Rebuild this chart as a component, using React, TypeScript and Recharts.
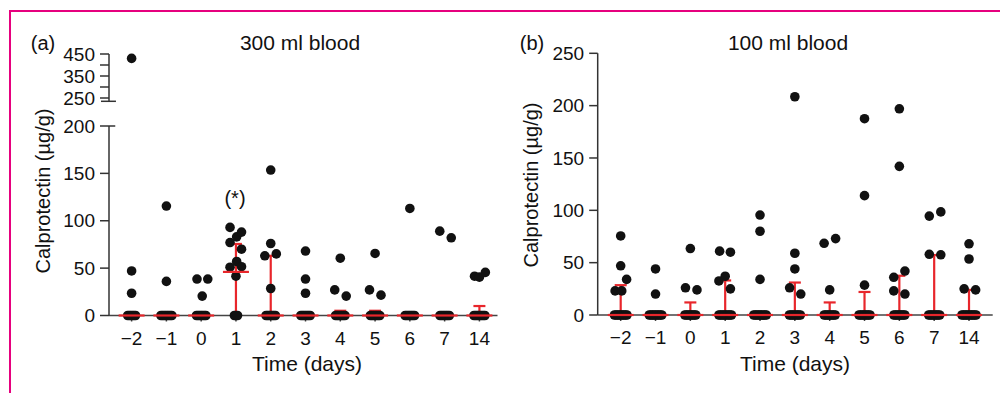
import React from 'react';
import { ComposedChart, Scatter, XAxis, YAxis, ErrorBar, ReferenceLine } from 'recharts';

const FONT = '"Liberation Sans", Arial, Helvetica, sans-serif';
const RED = '#e8262b';
const INK = '#111';
const AXIS = '#333';
const FRAME = '#e6007e';

// x tick labels (time in days), drawn at positions 0..10
const days = ['\u22122', '\u22121', '0', '1', '2', '3', '4', '5', '6', '7', '14'];
const dayIdx = [0, 1, 2, 3, 4, 5, 6, 7, 8, 9, 10];

// (a) 300 ml blood: non-zero samples as [day index, horizontal spread, value]
const pointsA: [number, number, number][] = [
  [0, 0, 430], [0, 0, 47], [0, 0, 23.5],
  [1, 0, 115.5], [1, 0, 36],
  [2, -0.12, 38.5], [2, 0.19, 38.5], [2, 0.03, 20.5],
  [3, -0.17, 93], [3, -0.17, 77], [3, 0.02, 83], [3, 0.16, 88], [3, 0.16, 70],
  [3, -0.17, 51], [3, 0.02, 57], [3, 0.16, 51.5], [3, 0, 41.5],
  [4, 0, 153.5], [4, 0, 76], [4, -0.17, 63], [4, 0.16, 65], [4, 0, 28.5],
  [5, 0, 68], [5, 0, 38.5], [5, 0, 23.5],
  [6, 0, 60.5], [6, -0.16, 27], [6, 0.17, 20.5],
  [7, 0, 65.5], [7, -0.16, 27], [7, 0.17, 21.5],
  [8, 0, 113],
  [9, -0.14, 89], [9, 0.19, 82],
  [10, -0.14, 41.5], [10, 0, 40.5], [10, 0.17, 45.5],
];
// number of samples at 0 per day
const zerosA = [6, 8, 7, 3, 7, 7, 7, 7, 7, 7, 8];
const medianA = [0, 0, 0, 46, 0, 0, 0, 0, 0, 0, 0];
const q1A = [0, 0, 0, 0, 0, 0, 0, 0, 0, 0, 0];
const q3A = [0, 0, 0, 75.5, 63, 0, 5, 5, 0, 0, 10];

// (b) 100 ml blood
const pointsB: [number, number, number][] = [
  [0, 0, 75.5], [0, 0, 47], [0, 0.17, 34], [0, -0.16, 23], [0, 0.03, 23],
  [1, 0, 44], [1, 0, 20],
  [2, 0, 63.5], [2, -0.14, 26], [2, 0.19, 24],
  [3, -0.16, 61], [3, 0.15, 60], [3, 0, 37], [3, -0.18, 32.5], [3, 0.15, 25],
  [4, 0, 95.5], [4, 0, 80], [4, 0, 34],
  [5, 0, 208.5], [5, 0, 59], [5, 0, 44], [5, -0.15, 26], [5, 0.17, 20],
  [6, -0.16, 68.5], [6, 0.17, 73], [6, 0, 24],
  [7, 0, 187.5], [7, 0, 114], [7, 0, 28.5],
  [8, 0, 197], [8, 0, 142], [8, -0.16, 36], [8, 0.16, 42], [8, -0.16, 23], [8, 0.16, 20],
  [9, -0.14, 94.5], [9, 0.19, 98.5], [9, -0.14, 58], [9, 0.19, 57.5],
  [10, 0, 68], [10, 0, 53.5], [10, -0.14, 25], [10, 0.19, 24],
];
const zerosB = [9, 9, 8, 9, 9, 8, 8, 8, 8, 8, 10];
const medianB = [0, 0, 0, 0, 0, 0, 0, 0, 0, 0, 0];
const q1B = [0, 0, 0, 0, 0, 0, 0, 0, 0, 0, 0];
const q3B = [28.5, 0, 12, 33, 0, 31, 12, 22, 37.5, 57.3, 24];

const ticksALow = [0, 50, 100, 150, 200];
const ticksAHigh = [250, 300, 350, 400, 450];
const ticksB = [0, 50, 100, 150, 200, 250];

const BREAK = 200;
const SPREAD = 0.045; // side-by-side spacing of equal values

const toRows = (pts: [number, number, number][]) => pts.map(([d, o, v]) => ({ x: d + o, y: v }));
const zeroRows = (counts: number[]) =>
  counts.flatMap((n, i) => Array.from({ length: n }, (_, k) => ({ x: i + (k - (n - 1) / 2) * SPREAD, y: 0 })));
const statRows = (med: number[], q1: number[], q3: number[]) =>
  med.map((m, i) => ({ x: dayIdx[i], y: m, err: [m - q1[i], q3[i] - m] }));

const rowsALow = [...zeroRows(zerosA), ...toRows(pointsA.filter((p) => p[2] <= BREAK))];
const rowsAHigh = toRows(pointsA.filter((p) => p[2] > BREAK));
const statsA = statRows(medianA, q1A, q3A);
const rowsB = [...zeroRows(zerosB), ...toRows(pointsB)];
const statsB = statRows(medianB, q1B, q3B);

const Dot = (p: any) => <circle cx={p.cx} cy={p.cy} r={4.8} fill={INK} />;
const Median = (p: any) => (
  <line x1={p.cx - 13} x2={p.cx + 13} y1={p.cy} y2={p.cy} stroke={RED} strokeWidth={2.2} />
);

const tickStyle = { fontSize: 19, fill: INK, fontFamily: FONT };
const domA: [number, number] = [-0.65, 10.52];
const domB: [number, number] = [-0.66, 10.68];

const XTicks = (domain: [number, number]) => (
  <XAxis
    type="number"
    dataKey="x"
    domain={domain}
    ticks={dayIdx}
    tickFormatter={(v: number) => days[v]}
    interval={0}
    stroke="#444"
    strokeWidth={1.5}
    tickSize={6}
    tickMargin={10}
    tick={tickStyle}
    height={50}
  />
);

const abs = (left: number): React.CSSProperties => ({ position: 'absolute', left, top: 0 });

export default function App() {
  return (
    <div style={{ position: 'absolute', left: 0, top: 0, width: 1000, height: 393, background: '#fff', fontFamily: FONT, overflow: 'hidden' }}>
      <div style={{ position: 'absolute', left: 9, top: 10, width: 1000, height: 400, borderTop: `2px solid ${FRAME}`, borderLeft: `2px solid ${FRAME}` }} />

      {/* (a) upper part of the broken axis */}
      <div style={abs(0)}>
        <ComposedChart width={500} height={393} margin={{ top: 54, right: 2.5, bottom: 291.7, left: 49 }}>
          <XAxis type="number" dataKey="x" domain={domA} hide />
          <YAxis
            type="number"
            domain={[235, 450]}
            ticks={ticksAHigh}
            interval={0}
            tickFormatter={(v: number) => (v % 100 === 50 ? String(v) : '')}
            width={60}
            stroke={AXIS}
            strokeWidth={1.5}
            tickSize={9}
            tickMargin={5}
            tick={tickStyle}
          />
          <ReferenceLine
            segment={[{ x: domA[0] - 0.23, y: 235 }, { x: domA[0] + 0.2, y: 235 }]}
            stroke={AXIS}
            strokeWidth={1.5}
            ifOverflow="visible"
          />
          <Scatter data={rowsAHigh} dataKey="y" shape={Dot} isAnimationActive={false} />
        </ComposedChart>
      </div>

      {/* (a) lower part */}
      <div style={abs(0)}>
        <ComposedChart width={500} height={393} margin={{ top: 126, right: 2.5, bottom: 27.5, left: 49 }}>
          {XTicks(domA)}
          <YAxis
            type="number"
            domain={[0, 200]}
            ticks={ticksALow}
            interval={0}
            width={60}
            stroke={AXIS}
            strokeWidth={1.5}
            tickSize={9}
            tickMargin={5}
            tick={tickStyle}
          />
          <ReferenceLine
            segment={[{ x: domA[0], y: 200 }, { x: domA[0] + 0.18, y: 200 }]}
            stroke={AXIS}
            strokeWidth={1.5}
            ifOverflow="visible"
          />
          <Scatter data={rowsALow} dataKey="y" shape={Dot} isAnimationActive={false} />
          <Scatter data={statsA} dataKey="y" shape={Median} isAnimationActive={false}>
            <ErrorBar dataKey="err" direction="y" width={6} stroke={RED} strokeWidth={2.2} />
          </Scatter>
        </ComposedChart>
      </div>

      {/* (b) */}
      <div style={abs(500)}>
        <ComposedChart width={500} height={393} margin={{ top: 53.3, right: 7.3, bottom: 28, left: 37.7 }}>
          {XTicks(domB)}
          <YAxis
            type="number"
            domain={[0, 250]}
            ticks={ticksB}
            interval={0}
            width={60}
            stroke={AXIS}
            strokeWidth={1.5}
            tickSize={8.5}
            tickMargin={5}
            tick={tickStyle}
          />
          <Scatter data={rowsB} dataKey="y" shape={Dot} isAnimationActive={false} />
          <Scatter data={statsB} dataKey="y" shape={Median} isAnimationActive={false}>
            <ErrorBar dataKey="err" direction="y" width={6} stroke={RED} strokeWidth={2.2} />
          </Scatter>
        </ComposedChart>
      </div>

      <svg width={1000} height={393} style={{ position: 'absolute', left: 0, top: 0, pointerEvents: 'none' }} fontFamily={FONT} fill={INK}>
        <text x={43} y={50} fontSize={20} textAnchor="middle">(a)</text>
        <text x={300} y={50} fontSize={21} textAnchor="middle">300 ml blood</text>
        <text x={532} y={50} fontSize={20} textAnchor="middle">(b)</text>
        <text x={788} y={50} fontSize={21} textAnchor="middle">100 ml blood</text>
        <text x={235} y={205} fontSize={20} textAnchor="middle">(*)</text>
        <text x={307} y={371} fontSize={21} textAnchor="middle">Time (days)</text>
        <text x={795} y={371} fontSize={21} textAnchor="middle">Time (days)</text>
        <text transform="translate(50,191) rotate(-90)" fontSize={20} textAnchor="middle">Calprotectin (µg/g)</text>
        <text transform="translate(538,185) rotate(-90)" fontSize={20} textAnchor="middle">Calprotectin (µg/g)</text>
      </svg>
    </div>
  );
}
